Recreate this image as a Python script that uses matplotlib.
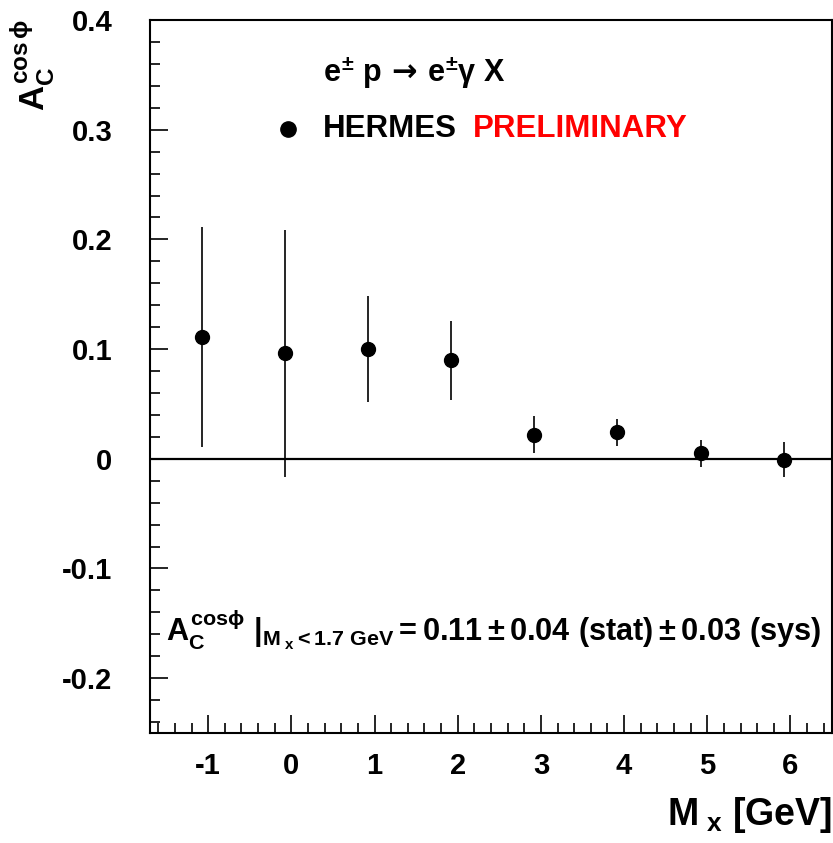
import matplotlib
matplotlib.use("Agg")
import matplotlib.pyplot as plt
from matplotlib.ticker import MultipleLocator, FixedLocator

plt.rcParams['font.family'] = ['Liberation Sans', 'DejaVu Sans']
plt.rcParams['font.weight'] = 'bold'
plt.rcParams['mathtext.fontset'] = 'custom'
plt.rcParams['mathtext.rm'] = 'Liberation Sans:bold'
plt.rcParams['mathtext.it'] = 'Liberation Sans:bold'
plt.rcParams['mathtext.bf'] = 'Liberation Sans:bold'
plt.rcParams['mathtext.sf'] = 'DejaVu Sans'

# Data
mx = [-1.08, -0.08, 0.92, 1.92, 2.92, 3.92, 4.92, 5.92]
asym = [0.111, 0.096, 0.100, 0.090, 0.022, 0.024, 0.005, -0.001]
err = [0.100, 0.113, 0.048, 0.036, 0.017, 0.012, 0.0125, 0.016]
xticks = [-1, 0, 1, 2, 3, 4, 5, 6]
yticks = [-0.2, -0.1, 0, 0.1, 0.2, 0.3, 0.4]
ytick_labels = ['-0.2', '-0.1', '0', '0.1', '0.2', '0.3', '0.4']

fig = plt.figure(figsize=(8.33, 8.43), dpi=100)
ax = fig.add_axes([150/833, 1-733/843, 682/833, 713/843])

ax.set_xlim(-1.7, 6.5)
ax.set_ylim(-0.25, 0.4)

ax.axhline(0, color='black', lw=1.6, zorder=1)
ax.errorbar(mx, asym, yerr=err, fmt='o', color='black', ms=10,
            elinewidth=1.2, capsize=0, zorder=3)

for s in ax.spines.values():
    s.set_linewidth(1.5)

ax.xaxis.set_major_locator(FixedLocator(xticks))
ax.xaxis.set_minor_locator(MultipleLocator(0.2))
ax.yaxis.set_major_locator(FixedLocator(yticks))
ax.yaxis.set_minor_locator(MultipleLocator(0.02))
ax.set_yticklabels(ytick_labels)
ax.set_xticklabels([str(t) for t in xticks])
ax.tick_params(which='both', direction='in', top=False, right=False, width=1.2)
ax.tick_params(which='major', length=13)
ax.tick_params(which='minor', length=7)
ax.tick_params(axis='y', which='major', pad=27, labelsize=21)
ax.tick_params(axis='x', which='major', pad=14, labelsize=21)
for lab in ax.get_xticklabels() + ax.get_yticklabels():
    lab.set_fontweight('bold')

# axis titles
fig.text(33/833, 1-19/843, r'$A_C^{cos\,\phi}$', rotation=90, ha='center', va='top', fontsize=25)
fig.text(832/833, 1-835/843, r'$M_{\ x}$ [GeV]', ha='right', va='bottom', fontsize=27, fontweight='bold')

# annotations
ax.text(0.38, 0.352, r'$e^{\pm}\ p\,\mathsf{\rightarrow}\,e^{\pm}\gamma\ X$', fontsize=22, va='center', ha='left')
ax.plot([-0.04], [0.301], 'o', color='black', ms=11)
ax.text(0.38, 0.301, 'HERMES', fontsize=22.5, fontweight='bold', va='center', ha='left')
ax.text(2.18, 0.301, 'PRELIMINARY', fontsize=22.5, fontweight='bold', va='center', ha='left', color='#ff0000')
ax.text(-1.51, -0.156, r'$A_C^{cos\phi}\ |_{M_{\ x} < 1.7\ GeV} = 0.11 \pm 0.04\ (stat) \pm 0.03\ (sys)$',
        fontsize=22.1, va='center', ha='left')

fig.savefig('out.png', dpi=100)
